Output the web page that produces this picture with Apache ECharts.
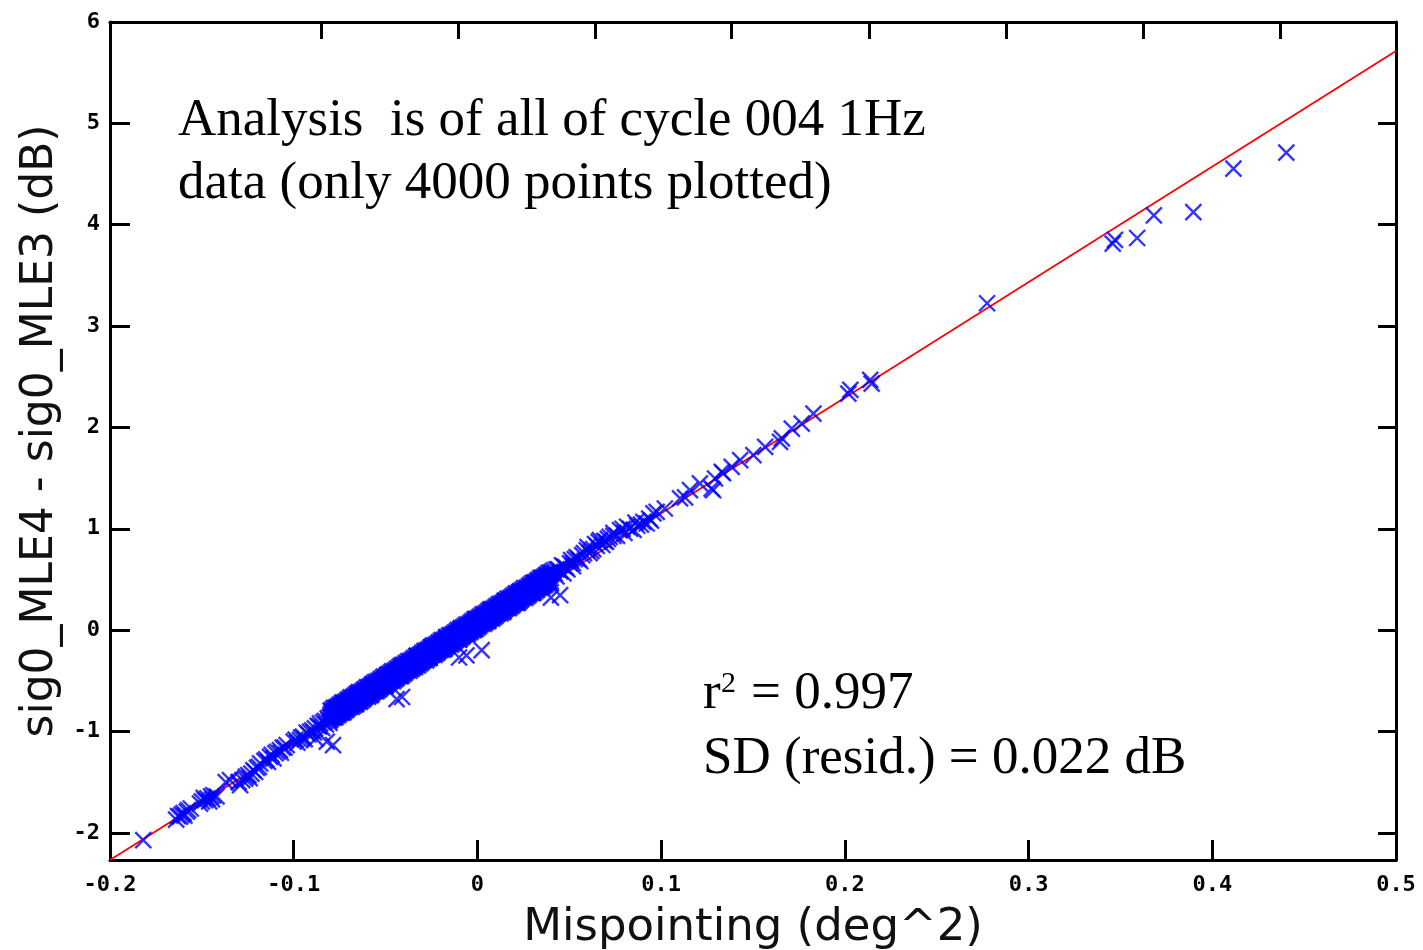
<!DOCTYPE html>
<html><head><meta charset="utf-8">
<script src="https://cdn.jsdelivr.net/npm/echarts@6/dist/echarts.min.js"></script>
<style>html,body{margin:0;padding:0;background:#fff}#c{width:1423px;height:950px}</style>
</head><body><div id="c"></div>
<script>
// ---- axis setup ----
const xRange = [-0.2, 0.5];
const yRange = [-2.268, 6];
const xTicks = [-0.2, -0.1, 0, 0.1, 0.2, 0.3, 0.4, 0.5];
const yTicks = [-2, -1, 0, 1, 2, 3, 4, 5, 6];
const topTicks = [-0.0851, -0.0106, 0.064, 0.138, 0.2131, 0.2877, 0.3623, 0.4369];

// ---- regression line endpoints ----
const fitX = [-0.2, 0.5];
const fitY = [-2.268, 5.714];

// ---- scatter points (x = mispointing, y = dB difference) ----
const lowTail = [
 [-0.1819,-2.071],
 [-0.1640,-1.870],[-0.1619,-1.841],[-0.1600,-1.805],[-0.1582,-1.792],[-0.1560,-1.760],
 [-0.1630,-1.835],[-0.1610,-1.820],[-0.1595,-1.830],[-0.1575,-1.775],
 [-0.1510,-1.712],[-0.1483,-1.677],[-0.1460,-1.690],[-0.1438,-1.627],[-0.1420,-1.640],
 [-0.1500,-1.690],[-0.1490,-1.655],[-0.1470,-1.660],[-0.1450,-1.640],[-0.1445,-1.670],
 [-0.1370,-1.500],[-0.1347,-1.479],[-0.1300,-1.500],[-0.1292,-1.529],[-0.1265,-1.465],[-0.1247,-1.430],[-0.1220,-1.381],[-0.1200,-1.360],
 [-0.1280,-1.480],[-0.1260,-1.445],[-0.1240,-1.460],[-0.1230,-1.415],[-0.1210,-1.400],[-0.1190,-1.350],
 [-0.1183,-1.315],[-0.1160,-1.290],[-0.1129,-1.250],[-0.1100,-1.215],[-0.1075,-1.183],[-0.1050,-1.160],[-0.1038,-1.134],
 [-0.1150,-1.275],[-0.1140,-1.300],[-0.1120,-1.230],[-0.1110,-1.265],[-0.1090,-1.200],[-0.1070,-1.210],[-0.1060,-1.160],
 [-0.1000,-1.100],[-0.0966,-1.085],[-0.0950,-1.050],[-0.0930,-1.010],[-0.0911,-1.003],[-0.0885,-0.970],[-0.0870,-0.945],
 [-0.0990,-1.080],[-0.0980,-1.110],[-0.0960,-1.060],[-0.0940,-1.075],[-0.0920,-1.030],[-0.0900,-0.990],[-0.0890,-1.010],
 [-0.0860,-0.950],[-0.0845,-0.965],[-0.0840,-0.910],[-0.0825,-0.930],[-0.0810,-0.890],[-0.0805,-0.915],
 [-0.0857,-0.920],[-0.0830,-0.895],[-0.0815,-0.870],[-0.0803,-0.855]
];
// dense core: each row is [x, y1, y2, ...]
const bandRows = [
 [-0.0800,-0.892,-0.857,-0.822,-0.787],[-0.0785,-0.865,-0.830,-0.795,-0.765],[-0.0770,-0.863,-0.828,-0.793,-0.758],
 [-0.0755,-0.841,-0.806,-0.771,-0.736],[-0.0740,-0.814,-0.779,-0.744,-0.714],[-0.0725,-0.812,-0.777,-0.742,-0.707],
 [-0.0710,-0.789,-0.754,-0.719,-0.684],[-0.0695,-0.762,-0.727,-0.692,-0.662],[-0.0680,-0.760,-0.725,-0.690,-0.655],
 [-0.0665,-0.738,-0.703,-0.668,-0.633],[-0.0650,-0.711,-0.676,-0.641,-0.611],[-0.0635,-0.709,-0.674,-0.639,-0.604],
 [-0.0620,-0.687,-0.652,-0.617,-0.582],[-0.0605,-0.660,-0.625,-0.590,-0.560],[-0.0590,-0.658,-0.623,-0.588,-0.553],
 [-0.0575,-0.636,-0.601,-0.566,-0.531],[-0.0560,-0.608,-0.573,-0.538,-0.508],[-0.0545,-0.606,-0.571,-0.536,-0.501],
 [-0.0530,-0.584,-0.549,-0.514,-0.479],[-0.0515,-0.557,-0.522,-0.487,-0.457],[-0.0500,-0.555,-0.520,-0.485,-0.450],
 [-0.0485,-0.533,-0.498,-0.463,-0.428],[-0.0470,-0.506,-0.471,-0.436,-0.406],[-0.0455,-0.504,-0.469,-0.434,-0.399],
 [-0.0440,-0.482,-0.447,-0.412,-0.377],[-0.0425,-0.455,-0.420,-0.385,-0.355],[-0.0410,-0.452,-0.417,-0.382,-0.347],
 [-0.0395,-0.430,-0.395,-0.360,-0.325],[-0.0380,-0.403,-0.368,-0.333,-0.303],[-0.0365,-0.401,-0.366,-0.331,-0.296],
 [-0.0350,-0.379,-0.344,-0.309,-0.274],[-0.0335,-0.352,-0.317,-0.282,-0.252],[-0.0320,-0.350,-0.315,-0.280,-0.245],
 [-0.0305,-0.328,-0.293,-0.258,-0.223],[-0.0290,-0.301,-0.266,-0.231,-0.201],[-0.0275,-0.299,-0.264,-0.229,-0.194],
 [-0.0260,-0.276,-0.241,-0.206,-0.171],[-0.0245,-0.249,-0.214,-0.179,-0.149],[-0.0230,-0.247,-0.212,-0.177,-0.142],
 [-0.0215,-0.225,-0.190,-0.155,-0.120],[-0.0200,-0.198,-0.163,-0.128,-0.098],[-0.0185,-0.196,-0.161,-0.126,-0.091],
 [-0.0170,-0.174,-0.139,-0.104,-0.069],[-0.0155,-0.147,-0.112,-0.077,-0.047],[-0.0140,-0.145,-0.110,-0.075,-0.040],
 [-0.0125,-0.123,-0.088,-0.053,-0.018],[-0.0110,-0.095,-0.060,-0.025,0.005],[-0.0095,-0.093,-0.058,-0.023,0.012],
 [-0.0080,-0.071,-0.036,-0.001,0.034],[-0.0065,-0.044,-0.009,0.026,0.056],[-0.0050,-0.042,-0.007,0.028,0.063],
 [-0.0035,-0.020,0.015,0.050,0.085],[-0.0020,0.007,0.042,0.077,0.107],[-0.0005,0.009,0.044,0.079,0.114],
 [0.0010,0.031,0.066,0.101,0.136],[0.0025,0.059,0.094,0.129,0.159],[0.0040,0.061,0.096,0.131,0.166],
 [0.0055,0.083,0.118,0.153,0.188],[0.0070,0.110,0.145,0.180,0.210],[0.0085,0.112,0.147,0.182,0.217],
 [0.0100,0.134,0.169,0.204,0.239],[0.0115,0.161,0.196,0.231,0.261],[0.0130,0.163,0.198,0.233,0.268],
 [0.0145,0.185,0.220,0.255,0.290],[0.0160,0.212,0.247,0.282,0.312],[0.0175,0.215,0.250,0.285,0.320],
 [0.0190,0.237,0.272,0.307,0.342],[0.0205,0.264,0.299,0.334,0.364],[0.0220,0.266,0.301,0.336,0.371],
 [0.0235,0.288,0.323,0.358,0.393],[0.0250,0.315,0.350,0.385,0.415],[0.0265,0.317,0.352,0.387,0.422],
 [0.0280,0.339,0.374,0.409,0.444],[0.0295,0.366,0.401,0.436,0.466],[0.0310,0.368,0.403,0.438,0.473],
 [0.0325,0.391,0.426,0.461,0.496],[0.0340,0.418,0.453,0.488,0.518],[0.0355,0.420,0.455,0.490,0.525],
 [0.0370,0.442,0.477,0.512,0.547],[0.0385,0.469,0.504,0.539,0.569],[0.0400,0.471,0.506,0.541,0.576]
];
const bandMidRows = [
 [-0.07925,-0.869,-0.834,-0.799],[-0.07775,-0.851,-0.816,-0.781],[-0.07625,-0.834,-0.799,-0.764],
 [-0.07475,-0.817,-0.782,-0.747],[-0.07325,-0.800,-0.765,-0.730],[-0.07175,-0.783,-0.748,-0.713],
 [-0.07025,-0.766,-0.731,-0.696],[-0.06875,-0.749,-0.714,-0.679],[-0.06725,-0.732,-0.697,-0.662],
 [-0.06575,-0.715,-0.680,-0.645],[-0.06425,-0.698,-0.663,-0.628],[-0.06275,-0.680,-0.645,-0.610],
 [-0.06125,-0.663,-0.628,-0.593],[-0.05975,-0.646,-0.611,-0.576],[-0.05825,-0.629,-0.594,-0.559],
 [-0.05675,-0.612,-0.577,-0.542],[-0.05525,-0.595,-0.560,-0.525],[-0.05375,-0.578,-0.543,-0.508],
 [-0.05225,-0.561,-0.526,-0.491],[-0.05075,-0.544,-0.509,-0.474],[-0.04925,-0.527,-0.492,-0.457],
 [-0.04775,-0.509,-0.474,-0.439],[-0.04625,-0.492,-0.457,-0.422],[-0.04475,-0.475,-0.440,-0.405],
 [-0.04325,-0.458,-0.423,-0.388],[-0.04175,-0.441,-0.406,-0.371],[-0.04025,-0.424,-0.389,-0.354],
 [-0.03875,-0.407,-0.372,-0.337],[-0.03725,-0.390,-0.355,-0.320],[-0.03575,-0.373,-0.338,-0.303],
 [-0.03425,-0.356,-0.321,-0.286],[-0.03275,-0.338,-0.303,-0.268],[-0.03125,-0.321,-0.286,-0.251],
 [-0.02975,-0.304,-0.269,-0.234],[-0.02825,-0.287,-0.252,-0.217],[-0.02675,-0.270,-0.235,-0.200],
 [-0.02525,-0.253,-0.218,-0.183],[-0.02375,-0.236,-0.201,-0.166],[-0.02225,-0.219,-0.184,-0.149],
 [-0.02075,-0.202,-0.167,-0.132],[-0.01925,-0.185,-0.150,-0.115],[-0.01775,-0.167,-0.132,-0.097],
 [-0.01625,-0.150,-0.115,-0.080],[-0.01475,-0.133,-0.098,-0.063],[-0.01325,-0.116,-0.081,-0.046],
 [-0.01175,-0.099,-0.064,-0.029],[-0.01025,-0.082,-0.047,-0.012],[-0.00875,-0.065,-0.030,0.005],
 [-0.00725,-0.048,-0.013,0.022],[-0.00575,-0.031,0.004,0.039],[-0.00425,-0.014,0.022,0.057],
 [-0.00275,0.004,0.039,0.074],[-0.00125,0.021,0.056,0.091],[0.00025,0.038,0.073,0.108],
 [0.00175,0.055,0.090,0.125],[0.00325,0.072,0.107,0.142],[0.00475,0.089,0.124,0.159],
 [0.00625,0.106,0.141,0.176],[0.00775,0.123,0.158,0.193],[0.00925,0.140,0.175,0.210],
 [0.01075,0.157,0.192,0.227],[0.01225,0.175,0.210,0.245],[0.01375,0.192,0.227,0.262],
 [0.01525,0.209,0.244,0.279],[0.01675,0.226,0.261,0.296],[0.01825,0.243,0.278,0.313],
 [0.01975,0.260,0.295,0.330],[0.02125,0.277,0.312,0.347],[0.02275,0.294,0.329,0.364],
 [0.02425,0.311,0.346,0.381],[0.02575,0.329,0.364,0.399],[0.02725,0.346,0.381,0.416],
 [0.02875,0.363,0.398,0.433],[0.03025,0.380,0.415,0.450],[0.03175,0.397,0.432,0.467],
 [0.03325,0.414,0.449,0.484],[0.03475,0.431,0.466,0.501],[0.03625,0.448,0.483,0.518],
 [0.03775,0.465,0.500,0.535]
];
const bandEdge = [
 [-0.078,-0.860],[-0.076,-0.795],[-0.077,-0.770],[-0.074,-0.815],[-0.072,-0.742],[-0.073,-0.720],
 [-0.066,-0.730],[-0.064,-0.650],[-0.065,-0.625],[-0.058,-0.640],[-0.056,-0.560],[-0.057,-0.535],
 [-0.050,-0.550],[-0.048,-0.470],[-0.049,-0.440],[-0.042,-0.455],[-0.040,-0.380],[-0.041,-0.345],
 [-0.034,-0.365],[-0.032,-0.290],[-0.033,-0.255],[-0.026,-0.275],[-0.024,-0.195],[-0.025,-0.165],
 [-0.018,-0.185],[-0.016,-0.105],[-0.017,-0.070],[-0.010,-0.095],[-0.008,-0.015],[-0.009,0.020],
 [-0.002,0.000],[0.000,0.075],[-0.001,0.110],[0.006,0.090],[0.008,0.165],[0.007,0.200],
 [0.014,0.180],[0.016,0.255],[0.015,0.290],[0.022,0.270],[0.024,0.345],[0.023,0.380],
 [0.030,0.365],[0.032,0.440],[0.031,0.470],
 [0.034,0.460],[0.035,0.510],[0.036,0.500],[0.038,0.530],[0.039,0.480],[0.040,0.560],
 [0.0415,0.590],[0.0430,0.530],[0.0450,0.580],[0.0460,0.640],[0.0490,0.600],
 [0.042,0.560],[0.043,0.600],[0.044,0.600],[0.0468,0.559],[0.047,0.630],[0.048,0.620],
 [0.0504,0.658],[0.052,0.660],[0.053,0.700],[0.055,0.700],[0.057,0.740],[0.0595,0.789],
 [0.0510,0.690],[0.0520,0.630],[0.0540,0.720],[0.0560,0.680],[0.0580,0.760],[0.0600,0.820],
 [0.061,0.760],[0.062,0.780],[0.064,0.850],[0.0667,0.888],[0.068,0.840],[0.070,0.870],
 [0.0630,0.800],[0.0650,0.830],[0.0660,0.870],[0.0690,0.880],[0.0720,0.920],[0.0740,0.960],
 [0.071,0.900],[0.074,0.930],[0.0760,0.930],[0.0790,1.000],[0.0815,1.020],[0.0850,0.990],
 [0.0860,1.060],[0.0890,1.040],[0.0935,1.100],[0.0945,1.080]
];
const highTail = [
 [0.0776,0.986],[0.0800,0.960],[0.0830,1.000],[0.0870,1.030],[0.0903,1.068],[0.0921,1.052],
 [0.0958,1.151],[0.0976,1.167],[0.1020,1.200],[0.1103,1.299],[0.1130,1.310],[0.1157,1.381],
 [0.1211,1.447],[0.1275,1.397],[0.1283,1.380],[0.1293,1.496],[0.1330,1.561],[0.1337,1.548],
 [0.1384,1.610],[0.1430,1.677],[0.1502,1.726],[0.1566,1.808],[0.1647,1.857],[0.1657,1.891],
 [0.1711,1.989],[0.1765,2.038],[0.1829,2.137],[0.2019,2.334],[0.2030,2.370],[0.2138,2.470],
 [0.2146,2.433],[0.2774,3.225],[0.3458,3.813],[0.3470,3.850],[0.3591,3.869],[0.3682,4.093],
 [0.3897,4.125],[0.4115,4.553],[0.4403,4.711]
];
const outliers = [
 [-0.0786,-1.134],[-0.0820,-1.100],[-0.0880,-1.070],[-0.0440,-0.680],[-0.0410,-0.660],
 [-0.0100,-0.270],[-0.0060,-0.250],[0.0023,-0.197],[0.0400,0.320],[0.0450,0.345]
];

const corePoints = [];
bandRows.concat(bandMidRows).forEach(r => { for (let i = 1; i < r.length; i++) corePoints.push([r[0], r[i]]); });

const chart = echarts.init(document.getElementById('c'), null, {renderer: 'canvas'});
const frame = {color: '#000', width: 3};
const tickFont = {fontFamily: 'DejaVu Sans Mono', fontSize: 22, fontWeight: 'bold', color: '#000'};
const fmt = v => String(Math.round(v * 10) / 10);
const crossSymbol = 'path://M0,0L10,10M10,0L0,10';

chart.setOption({
  backgroundColor: '#fff',
  animation: false,
  grid: {left: 110, right: 27, top: 22, bottom: 90, containLabel: false, outerBoundsMode: 'none'},
  xAxis: [
    {type: 'value', position: 'bottom', min: xRange[0], max: xRange[1], interval: 0.1,
     axisLine: {onZero: false, lineStyle: frame},
     axisTick: {inside: true, length: 20, lineStyle: frame, customValues: xTicks},
     axisLabel: Object.assign({customValues: xTicks, formatter: fmt, margin: 14, showMinLabel: true, showMaxLabel: true}, tickFont),
     splitLine: {show: false},
     name: 'Mispointing (deg^2)', nameLocation: 'middle', nameGap: 46,
     nameTextStyle: {fontFamily: 'DejaVu Sans', fontSize: 45, color: '#111'}},
    {type: 'value', position: 'top', min: xRange[0], max: xRange[1],
     axisLine: {onZero: false, lineStyle: frame},
     axisTick: {inside: true, length: 17, lineStyle: frame, customValues: topTicks},
     axisLabel: {show: false}, splitLine: {show: false}}
  ],
  yAxis: [
    {type: 'value', position: 'left', min: yRange[0], max: yRange[1],
     axisLine: {onZero: false, lineStyle: frame},
     axisTick: {inside: true, length: 20, lineStyle: frame, customValues: yTicks},
     axisLabel: Object.assign({customValues: yTicks, formatter: v => String(v), margin: 10, showMinLabel: true, showMaxLabel: true}, tickFont),
     splitLine: {show: false},
     name: 'sig0_MLE4 - sig0_MLE3 (dB)', nameLocation: 'middle', nameGap: 47, nameRotate: 90,
     nameTextStyle: {fontFamily: 'DejaVu Sans', fontSize: 44, color: '#111', padding: [0, 0, 0, 20]}},
    {type: 'value', position: 'right', min: yRange[0], max: yRange[1],
     axisLine: {onZero: false, lineStyle: frame},
     axisTick: {inside: true, length: 18, lineStyle: frame, customValues: yTicks},
     axisLabel: {show: false}, splitLine: {show: false}}
  ],
  series: [
    {type: 'line', xAxisIndex: 0, yAxisIndex: 0, z: 1, silent: true, showSymbol: false,
     data: fitX.map((x, i) => [x, fitY[i]]),
     lineStyle: {color: '#ff0000', width: 1.8}},
    {type: 'scatter', xAxisIndex: 0, yAxisIndex: 0, z: 2, silent: true,
     data: lowTail.concat(bandEdge, highTail, outliers),
     symbol: crossSymbol, symbolSize: 16,
     itemStyle: {color: 'rgba(0,0,0,0)', borderColor: '#0000ff', borderWidth: 2.4}},
    {type: 'scatter', xAxisIndex: 0, yAxisIndex: 0, z: 3, silent: true,
     data: corePoints,
     symbol: crossSymbol, symbolSize: 15,
     itemStyle: {color: 'rgba(0,0,0,0)', borderColor: '#0000ff', borderWidth: 3.4}}
  ],
  graphic: [
    {type: 'text', x: 178, y: 121, style: {text: 'Analysis  is of all of cycle 004 1Hz', font: '53px "Liberation Serif"', fill: '#000', verticalAlign: 'middle'}},
    {type: 'text', x: 178, y: 184, style: {text: 'data (only 4000 points plotted)', font: '53px "Liberation Serif"', fill: '#000', verticalAlign: 'middle'}},
    {type: 'text', x: 703, y: 694, style: {text: 'r', font: '53px "Liberation Serif"', fill: '#000', verticalAlign: 'middle'}},
    {type: 'text', x: 721, y: 684, style: {text: '2', font: '30px "Liberation Serif"', fill: '#000', verticalAlign: 'middle'}},
    {type: 'text', x: 751, y: 694, style: {text: '= 0.997', font: '53px "Liberation Serif"', fill: '#000', verticalAlign: 'middle'}},
    {type: 'text', x: 703, y: 759, style: {text: 'SD (resid.) = 0.022 dB', font: '53px "Liberation Serif"', fill: '#000', verticalAlign: 'middle'}}
  ]
});
</script></body></html>
